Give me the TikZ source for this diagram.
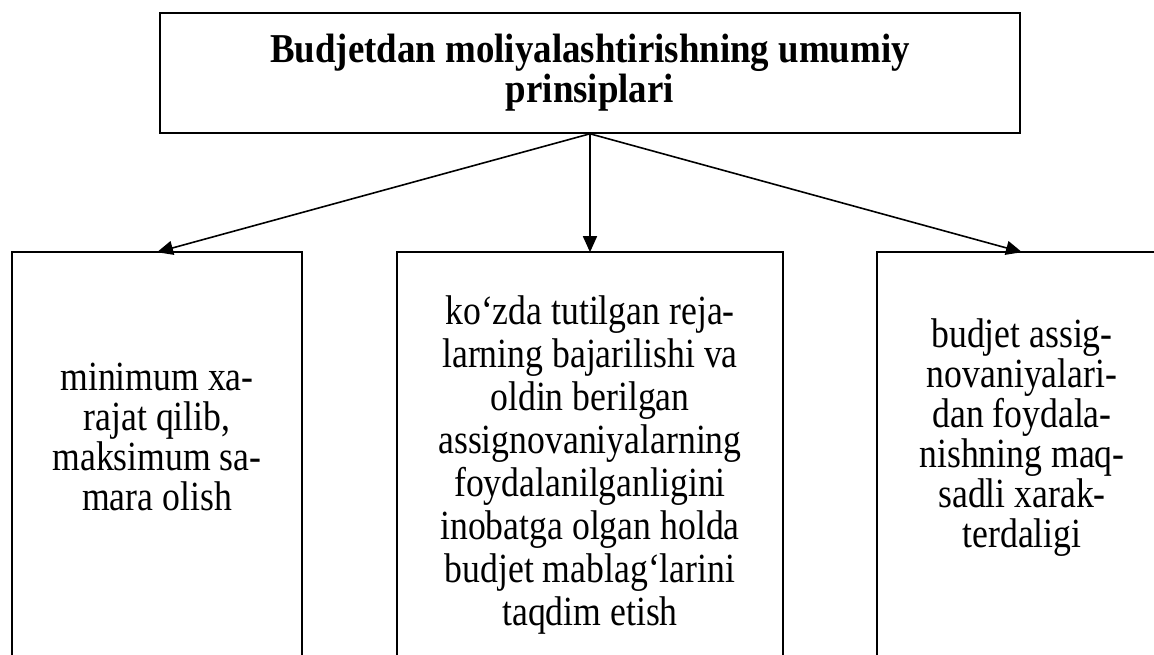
\documentclass[tikz,border=0pt]{standalone}
\usepackage{fontspec}
\setmainfont{Liberation Serif}
\newfontfamily\headfont{Liberation Serif}[FakeStretch=0.9]
\newfontfamily\itemfont{Liberation Serif}[FakeStretch=0.86]
\usetikzlibrary{arrows.meta}

\begin{document}
\begin{tikzpicture}[x=1pt, y=1pt, line width=1.6pt,
    headbox/.style={draw, minimum width=860pt, minimum height=120pt, align=center,
      font=\headfont\fontsize{41}{40}\selectfont\bfseries},
    itembox/.style={align=center, inner sep=0pt, font=\itemfont\fontsize{41.5}{40}\selectfont},
    link/.style={-{Triangle[length=16pt, width=14pt]}}]
  \useasboundingbox (0,0) rectangle (1154,655);
  \clip (0,0) rectangle (1154,655);
  \coordinate (bottom) at (0,-20);
  % top box
  \node[headbox] (head) at (590,582) {Budjetdan moliyalashtirishning umumiy\\prinsiplari};
  % three boxes, open at the bottom
  \node[itembox, minimum width=288pt, minimum height=368pt] (left) at (157,218)
    {minimum xa-\\rajat qilib,\\maksimum sa-\\mara olish};
  \node[itembox, minimum width=384pt, minimum height=424pt,
    font=\itemfont\fontsize{41.5}{43}\selectfont] (mid) at (590,190)
    {ko‘zda tutilgan reja-\\larning bajarilishi va\\oldin berilgan\\assignovaniyalarning\\foydalanilganligini\\inobatga olgan holda\\budjet mablag‘larini\\taqdim etish};
  \node[itembox, minimum width=288pt, minimum height=370pt] (right) at (1022,217)
    {budjet assig-\\novaniyalari-\\dan foydala-\\nishning maq-\\sadli xarak-\\terdaligi};
  \draw (left.north west |- bottom) -- (left.north west) -- (left.north east) -- (left.north east |- bottom);
  \draw (mid.north west |- bottom) -- (mid.north west) -- (mid.north east) -- (mid.north east |- bottom);
  \draw (right.north west |- bottom) -- (right.north west) -- (right.north east) -- (right.north east |- bottom);
  % arrows
  \draw[link] (head.south) -- (left.north);
  \draw[link] (head.south) -- (mid.north);
  \draw[link] (head.south) -- (right.north);
\end{tikzpicture}
\end{document}
